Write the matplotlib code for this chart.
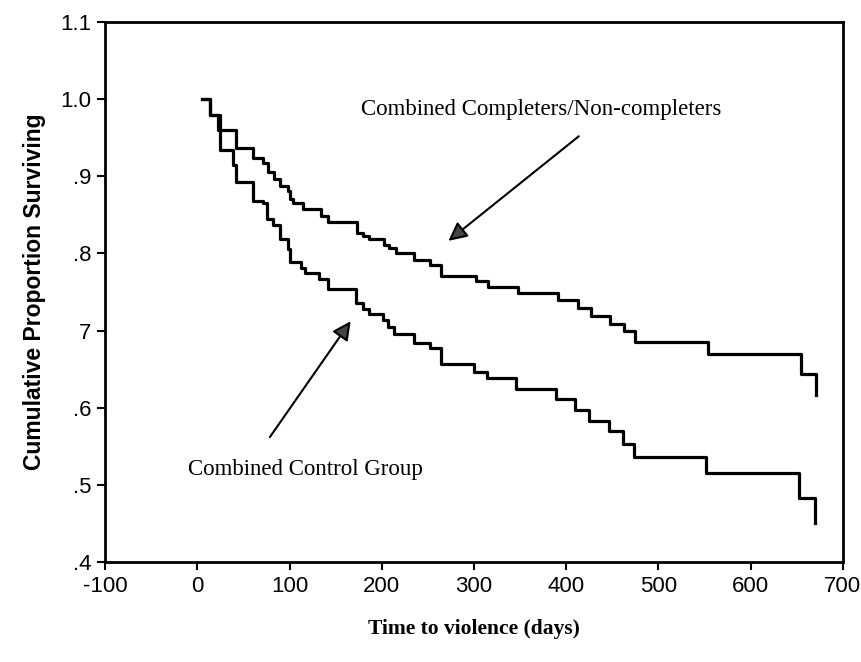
import matplotlib.pyplot as plt

# Survival steps (days, cumulative proportion surviving)
completer_days = [5, 14, 23, 42, 60, 71, 77, 83, 90, 98, 101, 104, 115, 134, 142,
                  173, 180, 186, 202, 208, 215, 235, 252, 264, 302, 315, 348, 391,
                  413, 427, 447, 463, 475, 554, 655, 671]
completer_surv = [1.0, 0.979, 0.960, 0.936, 0.923, 0.917, 0.906, 0.896, 0.887, 0.881,
                  0.871, 0.865, 0.857, 0.849, 0.840, 0.827, 0.823, 0.818, 0.811, 0.807,
                  0.800, 0.792, 0.785, 0.771, 0.764, 0.757, 0.749, 0.740, 0.729, 0.719,
                  0.709, 0.699, 0.685, 0.669, 0.644, 0.616]

control_days = [5, 14, 25, 39, 42, 60, 71, 76, 82, 90, 98, 101, 112, 117, 132, 142,
                172, 180, 186, 201, 207, 213, 235, 252, 264, 300, 314, 346, 389, 410,
                425, 446, 462, 474, 552, 652, 670]
control_surv = [1.0, 0.979, 0.934, 0.914, 0.892, 0.868, 0.865, 0.845, 0.837, 0.819,
                0.806, 0.789, 0.781, 0.774, 0.767, 0.754, 0.736, 0.728, 0.721, 0.713,
                0.704, 0.695, 0.684, 0.677, 0.657, 0.646, 0.639, 0.624, 0.611, 0.597,
                0.583, 0.570, 0.553, 0.536, 0.516, 0.483, 0.451]

x_ticks = [-100, 0, 100, 200, 300, 400, 500, 600, 700]
y_ticks = [0.4, 0.5, 0.6, 0.7, 0.8, 0.9, 1.0, 1.1]
y_tick_labels = [".4", ".5", ".6", "7", ".8", ".9", "1.0", "1.1"]

sans = "Liberation Sans"
serif = "Liberation Serif"

fig = plt.figure(figsize=(8.61, 6.62), dpi=100)
ax = fig.add_axes([0.122, 0.151, 0.857, 0.816])

ax.step(completer_days, completer_surv, where="post", color="black", lw=2.3)
ax.step(control_days, control_surv, where="post", color="black", lw=2.3)

ax.set_xlim(-100, 700)
ax.set_ylim(0.4, 1.1)
ax.set_xticks(x_ticks)
ax.set_xticklabels([str(t) for t in x_ticks], fontfamily=sans, fontsize=16)
ax.set_yticks(y_ticks)
ax.set_yticklabels(y_tick_labels, fontfamily=sans, fontsize=16)
ax.tick_params(direction="out", length=6, width=1.5, pad=4)

for s in ax.spines.values():
    s.set_linewidth(2)

ax.set_ylabel("Cumulative Proportion Surviving", fontfamily=sans, fontsize=16.5,
              fontweight="bold", labelpad=10)
ax.set_xlabel("Time to violence (days)", fontfamily=serif, fontsize=15.5,
              fontweight="bold", labelpad=16)

# annotations with arrows
ax.text(373, 0.987, "Combined Completers/Non-completers", fontfamily=serif,
        fontsize=16.5, ha="center", va="center")
ax.annotate("", xy=(270, 0.814), xytext=(416, 0.954),
            arrowprops=dict(arrowstyle="-|>", color="black", fc="#444444",
                            lw=1.5, mutation_scale=28))

ax.text(117, 0.52, "Combined Control Group", fontfamily=serif,
        fontsize=16.5, ha="center", va="center")
ax.annotate("", xy=(168, 0.715), xytext=(77, 0.559),
            arrowprops=dict(arrowstyle="-|>", color="black", fc="#444444",
                            lw=1.5, mutation_scale=28))

fig.savefig("out.png", dpi=100)
